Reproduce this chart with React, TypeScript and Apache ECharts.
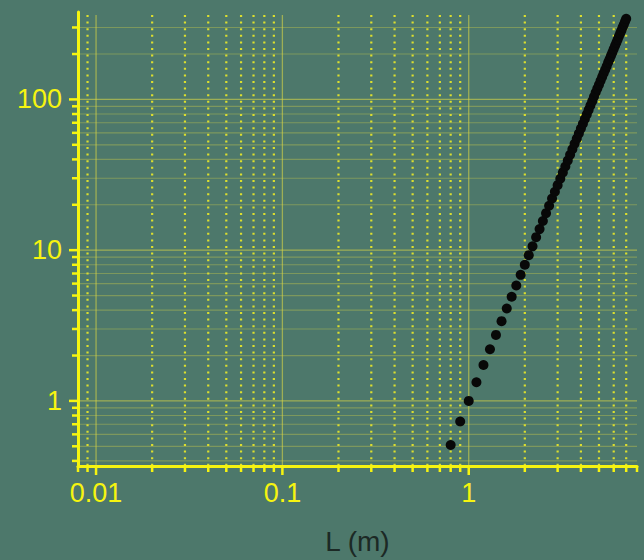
import React, { useEffect, useRef } from "react";
import * as echarts from "echarts";

// Measured points: length L (m) and the plotted quantity
const L_VALUES = [
  0.8, 0.9, 1.0, 1.1, 1.2, 1.3, 1.4, 1.5, 1.6, 1.7, 1.8, 1.9, 2.0, 2.1, 2.2, 2.3,
  2.4, 2.5, 2.6, 2.7, 2.8, 2.9, 3.0, 3.1, 3.2, 3.3, 3.4, 3.5, 3.6, 3.7, 3.8, 3.9,
  4.0, 4.1, 4.2, 4.3, 4.4, 4.5, 4.6, 4.7, 4.8, 4.9, 5.0, 5.1, 5.2, 5.3, 5.4, 5.5,
  5.6, 5.7, 5.8, 5.9, 6.0, 6.1, 6.2, 6.3, 6.4, 6.5, 6.6, 6.7, 6.8, 6.9, 7.0,
];
const Y_VALUES = [
  0.51, 0.73, 1.0, 1.33, 1.73, 2.2, 2.74, 3.38, 4.1, 4.91, 5.83, 6.86, 8.0, 9.26, 10.6, 12.2,
  13.8, 15.6, 17.6, 19.7, 22.0, 24.4, 27.0, 29.8, 32.8, 35.9, 39.3, 42.9, 46.7, 50.7, 54.9, 59.3,
  64.0, 68.9, 74.1, 79.5, 85.2, 91.1, 97.3, 104, 111, 118, 125, 133, 141, 149, 157, 166,
  176, 185, 195, 205, 216, 227, 238, 250, 262, 275, 287, 301, 314, 329, 343,
];

// Axis ranges and tick positions
const X_MIN = 0.008;
const X_MAX = 8;
const Y_MIN = 0.37;
const Y_MAX = 380;
const X_MAJOR = [0.01, 0.1, 1];
const X_MINOR = [
  0.008, 0.009, 0.02, 0.03, 0.04, 0.05, 0.06, 0.07, 0.08, 0.09,
  0.2, 0.3, 0.4, 0.5, 0.6, 0.7, 0.8, 0.9, 2, 3, 4, 5, 6, 7, 8,
];
const Y_MAJOR = [1, 10, 100];
const Y_MINOR = [
  0.4, 0.5, 0.6, 0.7, 0.8, 0.9, 2, 3, 4, 5, 6, 7, 8, 9,
  20, 30, 40, 50, 60, 70, 80, 90, 200, 300,
];

const X_NAME = "L (m)";

const YELLOW = "#f6f410";
const FONT = "'Liberation Sans', Arial, sans-serif";

function decadeLabel(v: number): string {
  const lg = Math.log10(v);
  const e = Math.round(lg);
  if (Math.abs(lg - e) > 1e-6) return "";
  return e >= 0 ? String(Math.pow(10, e)) : Math.pow(10, e).toFixed(-e);
}

export default function App() {
  const ref = useRef<HTMLDivElement>(null);

  useEffect(() => {
    if (!ref.current) return;
    const chart = echarts.init(ref.current, null, { renderer: "svg" });

    const xTickData = [
      ...X_MAJOR.map((v) => [v, 1, 1]),
      ...X_MINOR.map((v) => [v, 1, 0]),
    ];
    const yTickData = [
      ...Y_MAJOR.map((v) => [1, v, 1]),
      ...Y_MINOR.map((v) => [1, v, 0]),
    ];

    const option: any = {
      animation: false,
      backgroundColor: "#4d786b",
      grid: { left: 78, right: 7, top: 12, bottom: 94, containLabel: false },
      xAxis: {
        type: "log",
        logBase: 10,
        min: X_MIN,
        max: X_MAX,
        z: 10,
        name: X_NAME,
        nameLocation: "middle",
        nameGap: 61,
        nameTextStyle: { color: "#1c2925", fontSize: 28, fontFamily: FONT },
        axisLine: { show: true, lineStyle: { color: YELLOW, width: 3 } },
        axisTick: { show: false },
        splitLine: { show: false },
        minorTick: { show: false },
        axisLabel: {
          color: YELLOW,
          fontSize: 27,
          fontFamily: FONT,
          margin: 13,
          showMinLabel: false,
          showMaxLabel: false,
          formatter: (v: number) => decadeLabel(v),
        },
      },
      yAxis: {
        type: "log",
        logBase: 10,
        min: Y_MIN,
        max: Y_MAX,
        z: 10,
        axisLine: { show: true, lineStyle: { color: YELLOW, width: 3 } },
        axisTick: { show: false },
        splitLine: { show: false },
        minorTick: { show: false },
        axisLabel: {
          color: YELLOW,
          fontSize: 27,
          fontFamily: FONT,
          margin: 16,
          showMinLabel: false,
          showMaxLabel: false,
          formatter: (v: number) => decadeLabel(v),
        },
      },
      series: [
        {
          type: "custom",
          clip: false,
          z: 1,
          silent: true,
          data: xTickData,
          encode: { x: 0, y: 1 },
          renderItem: (params: any, api: any) => {
            const v = api.value(0);
            const major = api.value(2) === 1;
            const cs = params.coordSys;
            const x = api.coord([v, 1])[0];
            const bottom = cs.y + cs.height;
            const children: any[] = [];
            const atEdge = Math.abs(x - cs.x) < 1 || Math.abs(x - (cs.x + cs.width)) < 1;
            if (!atEdge) {
              children.push({
                type: "line",
                shape: { x1: x, y1: cs.y + 3, x2: x, y2: bottom },
                style: major
                  ? { stroke: "rgba(214,212,70,0.6)", lineWidth: 1.3 }
                  : { stroke: "rgba(236,234,40,0.9)", lineWidth: 2.2, lineDash: [2, 4.6] },
              });
            }
            children.push({
              type: "line",
              shape: { x1: x, y1: bottom, x2: x, y2: bottom + (major ? 9 : 6) },
              style: { stroke: YELLOW, lineWidth: 2.5 },
            });
            return { type: "group", children };
          },
        },
        {
          type: "custom",
          clip: false,
          z: 1,
          silent: true,
          data: yTickData,
          encode: { x: 0, y: 1 },
          renderItem: (params: any, api: any) => {
            const v = api.value(1);
            const major = api.value(2) === 1;
            const cs = params.coordSys;
            const y = api.coord([1, v])[1];
            return {
              type: "group",
              children: [
                {
                  type: "line",
                  shape: { x1: cs.x, y1: y, x2: cs.x + cs.width, y2: y },
                  style: {
                    stroke: major ? "rgba(214,212,70,0.6)" : "rgba(214,212,70,0.35)",
                    lineWidth: 1.2,
                  },
                },
                {
                  type: "line",
                  shape: { x1: cs.x, y1: y, x2: cs.x - (major ? 9 : 6), y2: y },
                  style: { stroke: YELLOW, lineWidth: 2.5 },
                },
              ],
            };
          },
        },
        {
          type: "scatter",
          z: 5,
          symbol: "circle",
          symbolSize: 10,
          itemStyle: { color: "#080808", opacity: 1 },
          data: L_VALUES.map((l, i) => [l, Y_VALUES[i]]),
        },
      ],
    };

    chart.setOption(option);
    return () => chart.dispose();
  }, []);

  return (
    <div
      ref={ref}
      style={{ position: "fixed", left: 0, top: 0, width: 644, height: 560 }}
    />
  );
}
